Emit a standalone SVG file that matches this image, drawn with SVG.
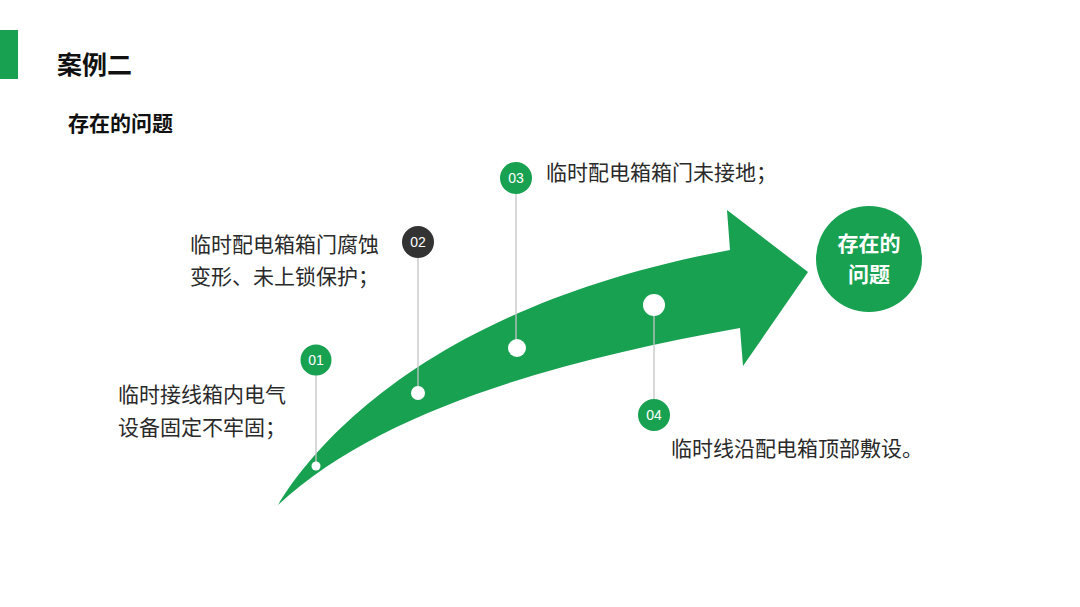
<svg xmlns="http://www.w3.org/2000/svg" width="1080" height="607" viewBox="0 0 1080 607">
<style>
.t{font-family:"Noto Sans CJK SC","Noto Sans",sans-serif;fill:#2a2a2a;font-size:21px}
.h{font-family:"Noto Sans CJK SC","Noto Sans",sans-serif;fill:#111;font-weight:bold}
.n{font-family:"Liberation Sans","Noto Sans",sans-serif;fill:#fff;font-size:14px;text-anchor:middle}
.g{fill:#19a152}
.ln{stroke:#c4c4c4;stroke-width:1.3;fill:none}
.dot{fill:#fff}
</style>
<rect x="0" y="30" width="18" height="49" class="g"/>
<text class="h" x="57" y="74" font-size="25">案例二</text>
<text class="h" x="68" y="131" font-size="21">存在的问题</text>
<g id="arrow">
<path class="g" d="M278,505 C330,420 460,300 730,250 L727,210 L808,272 L743,366 L740,328 C560,360 380,410 278,505 Z"/>
</g>
<g id="connectors">
<line class="ln" x1="316" y1="375" x2="316" y2="466"/>
<line class="ln" x1="418" y1="257" x2="418" y2="393"/>
<line class="ln" x1="516" y1="193" x2="516" y2="348"/>
<line class="ln" x1="654" y1="306" x2="654" y2="401"/>
</g>
<g id="dots">
<circle class="dot" cx="316" cy="466" r="4.5"/>
<circle class="dot" cx="418" cy="393" r="7"/>
<circle class="dot" cx="517" cy="348" r="9"/>
<circle class="dot" cx="654" cy="305" r="11"/>
</g>
<g id="node01">
<circle class="g" cx="316" cy="360" r="15.5"/>
<text class="n" x="316" y="365">01</text>
<text class="t" x="118" y="402">临时接线箱内电气</text>
<text class="t" x="118" y="435">设备固定不牢固；</text>
</g>
<g id="node02">
<circle cx="418" cy="242" r="16" fill="#333"/>
<text class="n" x="418" y="247">02</text>
<text class="t" x="190" y="252" font-size="20">临时配电箱箱门腐蚀</text>
<text class="t" x="190" y="284" font-size="20">变形、未上锁保护；</text>
</g>
<g id="node03">
<circle class="g" cx="516" cy="178" r="16"/>
<text class="n" x="516" y="183">03</text>
<text class="t" x="546" y="180">临时配电箱箱门未接地；</text>
</g>
<g id="node04">
<circle class="g" cx="654" cy="415" r="16"/>
<text class="n" x="654" y="420">04</text>
<text class="t" x="671" y="456">临时线沿配电箱顶部敷设。</text>
</g>
<g id="center">
<circle class="g" cx="869" cy="259" r="53"/>
<text class="h" x="869" y="251" font-size="21" style="fill:#fff" text-anchor="middle">存在的</text>
<text class="h" x="869" y="282" font-size="21" style="fill:#fff" text-anchor="middle">问题</text>
</g>
</svg>
